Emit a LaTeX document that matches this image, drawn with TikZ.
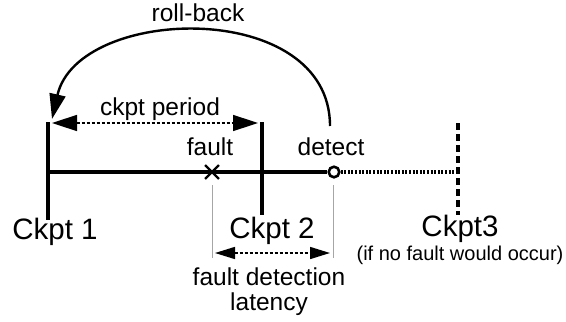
\documentclass[tikz,border=0pt]{standalone}
\usepackage{fontspec}
\setmainfont{Liberation Sans}
\usetikzlibrary{arrows.meta}

\begin{document}
\begin{tikzpicture}[x=0.5pt,y=-0.5pt,
  ckbar/.style={line width=1.75pt},
  lbl/.style={font=\fontsize{12.25}{12.5}\selectfont,inner sep=0pt},
  biglbl/.style={font=\fontsize{14.75}{17}\selectfont,inner sep=0pt},
  smalllbl/.style={font=\fontsize{10}{12}\selectfont,inner sep=0pt},
  bigtip/.style={{Triangle[length=12.5pt,width=8pt]}-{Triangle[length=12.5pt,width=8pt]}},
  smalltip/.style={{Triangle[length=10pt,width=6pt]}-{Triangle[length=10pt,width=6pt]}},
  guide/.style={gray!70,line width=0.5pt}]
  \useasboundingbox (0,0) rectangle (566,321);
  % Checkpoint marks
  \coordinate (c1top) at (48,122);
  \coordinate (c1bot) at (48,220);
  \coordinate (c2top) at (262,122);
  \coordinate (c2bot) at (262,215);
  \coordinate (c3top) at (458,123);
  \coordinate (c3bot) at (458,215);
  \draw[ckbar] (c1top) -- (c1bot);
  \draw[ckbar] (c2top) -- (c2bot);
  \draw[ckbar,dash pattern=on 3.5pt off 2pt] (c3top) -- (c3bot);
  % Time line: fault (x) and detection (o)
  \coordinate (tstart) at (48,172);
  \coordinate (c3mid) at (458,172);
  \node[draw,circle,line width=1.3pt,minimum size=5.3pt,inner sep=0pt] (det) at (334,172) {};
  \draw[line width=1.6pt] (tstart) -- (det.west);
  \draw[line width=1.6pt,dash pattern=on 1pt off 0.8pt] (det.east) -- (c3mid);
  \node[inner sep=0pt,minimum size=6.5pt] (flt) at (212,172) {};
  \draw[line width=1.2pt] (flt.north west) -- (flt.south east)
                          (flt.north east) -- (flt.south west);
  \node[lbl,anchor=base] (fltlbl) at (210,155) {fault};
  \node[lbl,anchor=base] (detlbl) at (331,155) {detect};
  % Checkpoint names
  \node[biglbl,anchor=base] (ck1) at (55,239) {Ckpt 1};
  \node[biglbl,anchor=base] (ck2) at (272,238) {Ckpt 2};
  \node[biglbl,anchor=base] (ck3) at (460,236) {Ckpt3};
  \node[smalllbl,anchor=base] (nofault) at (460,260) {(if no fault would occur)};
  % Checkpoint period
  \coordinate (perl) at (52,123);
  \coordinate (perr) at (258,123);
  \draw[bigtip,line width=0.75pt,dash pattern=on 1.5pt off 1pt] (perl) -- (perr);
  \node[lbl,anchor=base] (perlbl) at (160,115) {ckpt period};
  % Roll-back
  \coordinate (rbstart) at (330,126);
  \coordinate (rbend) at (52,119);
  \draw[line width=1.2pt,-{Triangle[length=12.5pt,width=8pt]}]
    (rbstart) .. controls (330,-2) and (78,5) .. (rbend);
  \node[lbl,anchor=base] (rblbl) at (198,21) {roll-back};
  % Fault detection latency
  \coordinate (g1top) at (212,185);
  \coordinate (g1bot) at (212,258);
  \coordinate (g2top) at (333,185);
  \coordinate (g2bot) at (333,258);
  \draw[guide] (g1top) -- (g1bot);
  \draw[guide] (g2top) -- (g2bot);
  \coordinate (latl) at (215,253);
  \coordinate (latr) at (330,253);
  \draw[smalltip,line width=0.75pt,dash pattern=on 1.5pt off 1pt] (latl) -- (latr);
  \node[lbl,align=center,anchor=north] (latlbl) at (269,267) {fault detection\\latency};
\end{tikzpicture}
\end{document}
